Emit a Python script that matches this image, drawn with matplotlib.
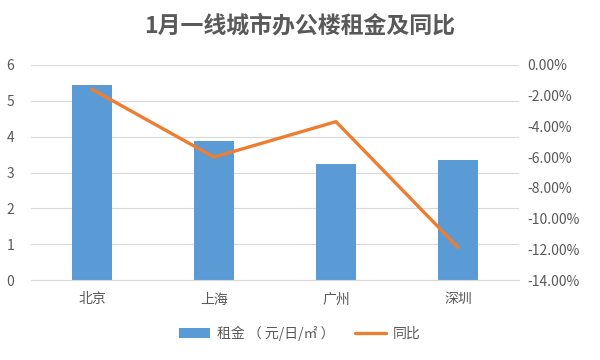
import matplotlib
matplotlib.use("Agg")
import matplotlib.pyplot as plt
from matplotlib.ticker import FuncFormatter
import numpy as np

plt.rcParams['font.family'] = ['Noto Sans CJK SC', 'DejaVu Sans']

cities = ['北京', '上海', '广州', '深圳']
rent = [5.44, 3.89, 3.25, 3.36]
yoy = [-1.58, -6.0, -3.69, -11.87]

blue = '#5B9BD5'
orange = '#ED7D31'
gray = '#595959'

fig = plt.figure(figsize=(6, 3.6), dpi=100)
ax = fig.add_axes([31/600, 1-280/360, 488/600, 215/360])
x = np.arange(len(cities))
bars = ax.bar(x, rent, width=0.32, color=blue, zorder=2)
ax.set_xlim(-0.5, 3.5)
ax.set_ylim(0, 6)
ax.set_yticks(range(0, 7))
ax.grid(axis='y', color='#D9D9D9', linewidth=0.8, zorder=0)
for s in ['top', 'right', 'left']:
    ax.spines[s].set_visible(False)
ax.spines['bottom'].set_color('#D9D9D9')
ax.tick_params(axis='both', length=0, colors=gray, labelsize=10)
ax.tick_params(axis='y', pad=12)
ax.set_xticks(x)
ax.set_xticklabels(cities)
ax.tick_params(axis='x', pad=9)

ax2 = ax.twinx()
ln, = ax2.plot(x, yoy, color=orange, linewidth=2.4, solid_capstyle='round', zorder=3)
ax2.set_ylim(-14, 0)
ax2.set_yticks(range(-14, 1, 2))
ax2.yaxis.set_major_formatter(FuncFormatter(lambda v, p: f'{v:.2f}%'))
for s in ['top', 'right', 'left', 'bottom']:
    ax2.spines[s].set_visible(False)
ax2.tick_params(axis='y', length=0, colors=gray, labelsize=10, pad=6)

fig.suptitle('1月一线城市办公楼租金及同比', x=0.5, y=0.96, fontsize=16.5, fontweight='bold', color=gray)

fig.legend([bars, ln], ['租金 （ 元/日/㎡ ）', '同比'], loc='center', bbox_to_anchor=(0.5, 1-333/360),
           ncol=2, frameon=False, fontsize=10, labelcolor=gray, handlelength=2.2,
           handletextpad=0.5, columnspacing=1.5)

fig.savefig('out.png', dpi=100)
